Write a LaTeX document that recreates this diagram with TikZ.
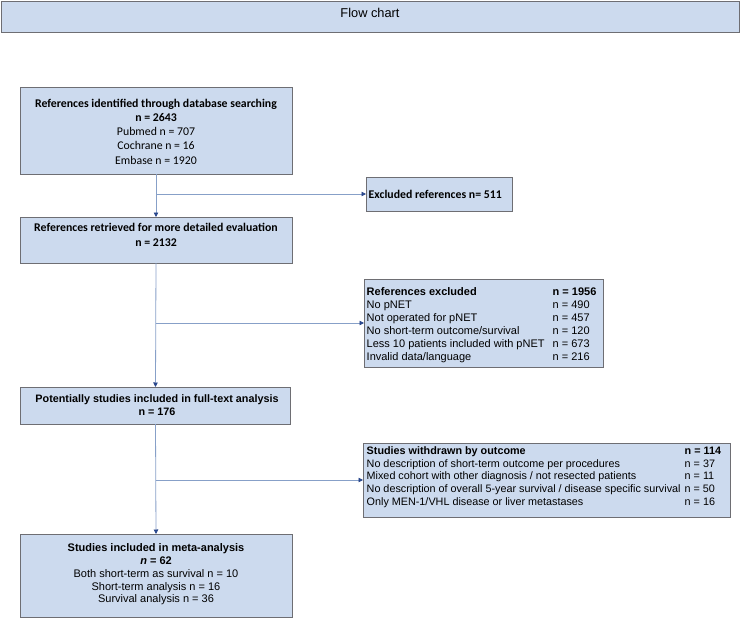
\documentclass[tikz,border=0pt]{standalone}
\usepackage{fontspec}
\setmainfont{Liberation Sans}
\newfontfamily\calfont{Carlito}
\usetikzlibrary{arrows.meta,calc}
\definecolor{boxfill}{RGB}{204,218,238}
\definecolor{boxline}{RGB}{110,110,115}
\definecolor{conn}{RGB}{135,160,200}
\definecolor{tipc}{RGB}{40,70,140}
\begin{document}
\begin{tikzpicture}[x=1pt,y=-1pt,
  box/.style={draw=boxline, fill=boxfill, line width=0.8pt, inner sep=0pt, outer sep=0pt},
  caltxt/.style={align=center, font=\calfont\fontsize{11.8}{14.3}\selectfont, inner sep=0pt},
  ariltxt/.style={align=center, font=\fontsize{11}{12.8}\selectfont, inner sep=0pt},
  conline/.style={draw=conn, line width=0.8pt, -{Triangle[length=4.5pt,width=4.5pt,fill=tipc,color=tipc]}}
]
\useasboundingbox (0,0) rectangle (740,621);

% title
\node[box, minimum width=738pt, minimum height=31pt, anchor=north west] (title) at (1,1) {};
\node[font=\fontsize{12.8}{14}\selectfont, inner sep=0pt] (titletxt) at (370,12.5) {Flow chart};

% box 1
\node[box, minimum width=272pt, minimum height=87pt] (b1) at (156,130.5) {};
\node[caltxt] (b1t) at (156,131.5) {\textbf{References identified through database searching}\\\textbf{n = 2643}\\Pubmed n = 707\\Cochrane n = 16\\Embase n = 1920};

% excluded 511
\node[box, minimum width=146pt, minimum height=34pt] (ex1) at (439,194) {};
\node[caltxt, anchor=west] (ex1t) at (368.5,194) {\textbf{Excluded references n= 511}};

% box 2
\node[box, minimum width=272pt, minimum height=46pt] (b2) at (156,240) {};
\node[caltxt] (b2t) at (156,235) {\textbf{References retrieved for more detailed evaluation}\\\textbf{n = 2132}};

% references excluded
\node[box, minimum width=239pt, minimum height=88pt] (b3) at (483.5,323) {};
\node[ariltxt, align=left, anchor=north west, font=\fontsize{11}{13}\selectfont] (b3t) at (366.5,286) {%
\begin{tabular}{@{}p{186pt}@{}l@{}}
\textbf{References excluded} & \textbf{n = 1956}\\
No pNET & n = 490\\
Not operated for pNET & n = 457\\
No short-term outcome/survival & n = 120\\
Less 10 patients included with pNET & n = 673\\
Invalid data/language & n = 216
\end{tabular}};

% box 4
\node[box, minimum width=270pt, minimum height=37pt] (b4) at (155.5,405.5) {};
\node[ariltxt, font=\fontsize{10.8}{12.5}\selectfont] (b4t) at (157,405) {\textbf{Potentially studies included in full-text analysis}\\\textbf{n = 176}};

% studies withdrawn
\node[box, minimum width=367pt, minimum height=74pt] (b5) at (546.5,480) {};
\node[ariltxt, align=left, anchor=north west, font=\fontsize{10.8}{12.7}\selectfont] (b5t) at (366.5,445.5) {%
\begin{tabular}{@{}p{318pt}@{}l@{}}
\textbf{Studies withdrawn by outcome} & \textbf{n = 114}\\
No description of short-term outcome per procedures & n = 37\\
Mixed cohort with other diagnosis / not resected patients & n = 11\\
No description of overall 5-year survival / disease specific survival & n = 50\\
Only MEN-1/VHL disease or liver metastases & n = 16
\end{tabular}};

% box 6
\node[box, minimum width=272pt, minimum height=83pt] (b6) at (156,575.5) {};
\node[ariltxt, font=\fontsize{11}{12.8}\selectfont] (b6t) at (156,574.5) {\textbf{Studies included in meta-analysis}\\\textbf{\textit{n} = 62}\\Both short-term as survival n = 10\\Short-term analysis n = 16\\Survival analysis n = 36};

% connectors
\coordinate (j1) at (b1.south |- ex1.west);
\coordinate (j2) at (b2.south |- b3.west);
\coordinate (j3) at (b4.south |- b5.west);
\draw[conline] (b1.south) -- (b2.north);
\draw[conline] (j1) -- (ex1.west);
\draw[conline] (b2.south) -- (b4.north);
\draw[conline] (j2) -- (b3.west);
\draw[conline] (b4.south) -- (b6.north);
\draw[conline] (j3) -- (b5.west);
\end{tikzpicture}
\end{document}
